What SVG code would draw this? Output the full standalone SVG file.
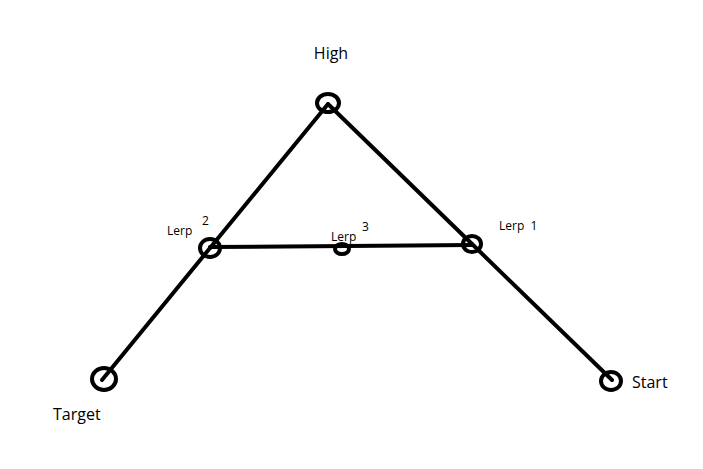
<svg xmlns="http://www.w3.org/2000/svg" width="703" height="469" viewBox="0 0 703 469">
<style>
.ln{stroke:#000;stroke-width:4;fill:none;stroke-linecap:round}
.nd{stroke:#000;stroke-width:4;fill:none}
.lb{font-family:"Open Sans","Liberation Sans",sans-serif;fill:#000}
.big{font-size:16px}
.sm{font-size:12px}
</style>
<rect width="703" height="469" fill="#fff"/>
<g id="connectors">
<line class="ln" x1="102" y1="380" x2="210" y2="248"/>
<line class="ln" x1="210" y1="248" x2="328" y2="104"/>
<line class="ln" x1="328" y1="104" x2="472" y2="244"/>
<line class="ln" x1="472" y1="244" x2="612" y2="380"/>
<line class="ln" x1="210" y1="247" x2="472" y2="245"/>
</g>
<g id="high"><ellipse class="nd" cx="328" cy="103" rx="11" ry="9"/><text class="lb big" x="331" y="59" text-anchor="middle">High</text></g>
<g id="lerp2"><ellipse class="nd" cx="210" cy="248" rx="10" ry="9"/><text class="lb sm" x="167" y="235">Lerp</text><text class="lb sm" x="202" y="225">2</text></g>
<g id="lerp3"><ellipse class="nd" cx="342" cy="249" rx="7" ry="5"/><text class="lb sm" x="331" y="241">Lerp</text><text class="lb sm" x="362" y="231">3</text></g>
<g id="lerp1"><ellipse class="nd" cx="472" cy="244" rx="9" ry="8"/><text class="lb sm" x="499" y="230" xml:space="preserve">Lerp  1</text></g>
<g id="target"><ellipse class="nd" cx="104" cy="379" rx="12" ry="11"/><text class="lb big" x="53" y="420">Target</text></g>
<g id="start"><ellipse class="nd" cx="611" cy="381" rx="10" ry="9"/><text class="lb big" x="632" y="388">Start</text></g>
</svg>
